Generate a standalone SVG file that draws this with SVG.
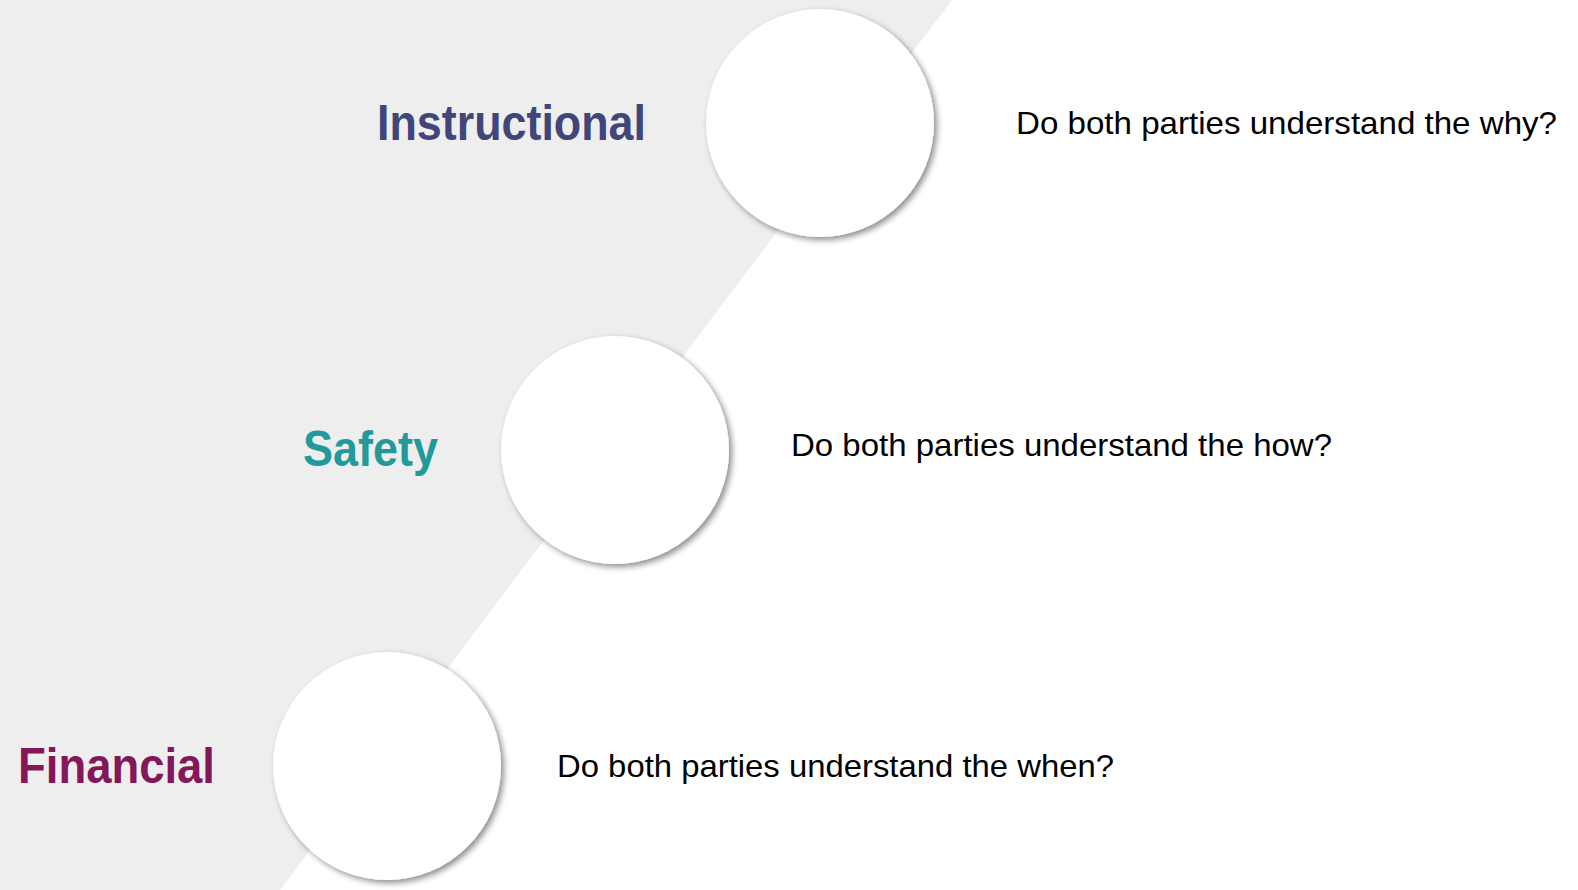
<svg xmlns="http://www.w3.org/2000/svg" width="1578" height="890" viewBox="0 0 1578 890">
<defs>
<filter id="sh" x="-20%" y="-20%" width="140%" height="140%">
<feGaussianBlur in="SourceAlpha" stdDeviation="3"/>
<feOffset dx="3" dy="3" result="b"/>
<feComponentTransfer><feFuncA type="linear" slope="0.45"/></feComponentTransfer>
<feMerge><feMergeNode/><feMergeNode in="SourceGraphic"/></feMerge>
</filter>
<style>
.c{fill:#ffffff;filter:url(#sh)}
.lbl{font-family:"Liberation Sans",Arial,sans-serif;font-weight:bold;font-size:50px}
.q{font-family:"Liberation Sans",Arial,sans-serif;font-size:32px;fill:#000000}
</style>
</defs>
<rect width="1578" height="890" fill="#ffffff"/>
<polygon points="0,0 952,0 280,890 0,890" fill="#eeeeee"/>
<g id="connectors"></g>
<g id="node-instructional">
<circle class="c" cx="820" cy="123" r="114"/>
<text class="lbl" x="377" y="140" fill="#40457a" textLength="269" lengthAdjust="spacingAndGlyphs">Instructional</text>
<text class="q" x="1016" y="134" textLength="541" lengthAdjust="spacingAndGlyphs">Do both parties understand the why?</text>
</g>
<g id="node-safety">
<circle class="c" cx="615" cy="450" r="114"/>
<text class="lbl" x="303" y="466" fill="#22999b" textLength="135" lengthAdjust="spacingAndGlyphs">Safety</text>
<text class="q" x="791" y="456" textLength="541" lengthAdjust="spacingAndGlyphs">Do both parties understand the how?</text>
</g>
<g id="node-financial">
<circle class="c" cx="387" cy="766" r="114"/>
<text class="lbl" x="18" y="783" fill="#84175a" textLength="197" lengthAdjust="spacingAndGlyphs">Financial</text>
<text class="q" x="557" y="777" textLength="557" lengthAdjust="spacingAndGlyphs">Do both parties understand the when?</text>
</g>
</svg>
